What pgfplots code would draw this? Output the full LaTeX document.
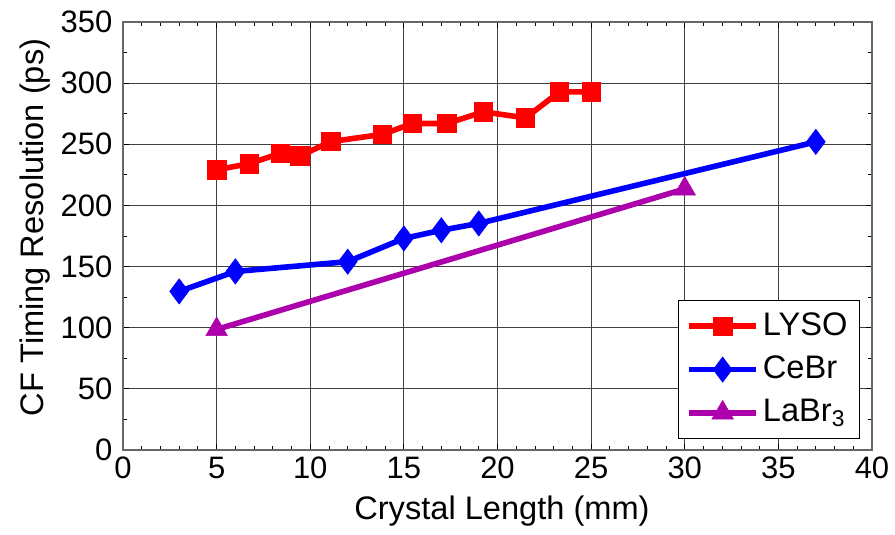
\documentclass[border=0pt]{standalone}
\usepackage{pgfplots}
\pgfplotsset{compat=1.18}
\usepackage{fontspec}
\setmainfont{Liberation Sans}
\definecolor{lyso}{rgb}{1,0,0}
\definecolor{cebr}{rgb}{0,0,1}
\definecolor{labr}{rgb}{0.68,0,0.68}
\newcommand{\chartfont}{\fontsize{15.5}{18}\selectfont}
\newcommand{\labelfont}{\fontsize{16.3}{19}\selectfont}
\begin{document}
\chartfont
\begin{tikzpicture}
\begin{axis}[
  scale only axis, width=374.5pt, height=214pt,
  xmin=0, xmax=40, ymin=0, ymax=350,
  xtick={0,5,...,40}, ytick={0,50,...,350},
  minor x tick num=4, minor y tick num=1,
  grid=major,
  major grid style={draw=black!75, line width=0.5pt},
  axis line style={draw=black!60, line width=0.6pt},
  tick style={black, line width=0.4pt},
  major tick length=3pt, minor tick length=2pt,
  tick align=inside,
  /pgf/number format/assume math mode=true,
  ticklabel style={font=\chartfont},
  xticklabel style={yshift=2pt},
  xlabel={Crystal Length (mm)},
  ylabel={CF Timing Resolution (ps)},
  every axis x label/.style={at={(axis description cs:0.506,-0.1425)}, anchor=center, font=\labelfont},
  every axis y label/.style={at={(axis description cs:-0.1175,0.52)}, anchor=center, rotate=90, font=\labelfont},
  legend style={at={(axis description cs:0.984,0.026)}, anchor=south east, draw=black, line width=0.5pt, font=\labelfont, row sep=4pt, inner xsep=4pt, inner ysep=4pt, cells={anchor=west}},
  legend image code/.code={\draw[mark repeat=2,mark phase=2] plot coordinates {(0pt,0pt) (16.75pt,0pt) (33.5pt,0pt)};},
]
\coordinate (O) at (rel axis cs:0,0);
\addplot[color=lyso, line width=2.8pt, mark=square*, mark size=4.6pt, mark options={solid, line width=0.3pt}] coordinates {
(5,229.2) (6.75,234.1) (8.4,242.7) (9.45,240.5) (11.1,252.2) (13.85,258.1) (15.45,267) (17.3,267) (19.25,276.5) (21.5,271.6) (23.3,292.8) (25,292.8)};
\addlegendentry{LYSO}
\addplot[color=cebr, line width=2.8pt, mark=diamond*, mark size=6.3pt, mark options={solid, line width=0.3pt}] coordinates {
(3,129.7) (6,146) (12,154) (15,173) (17,179.7) (19,185.3) (37,252)};
\addlegendentry{CeBr}
\addplot[color=labr, line width=2.8pt, mark=triangle*, mark size=6.2pt, mark options={solid, line width=0.3pt}] coordinates {
(5,98.6) (30,213.5)};
\addlegendentry{LaBr\textsubscript{3}}
\end{axis}
\pgfresetboundingbox
\path[use as bounding box] ([xshift=-61.5pt,yshift=-42.5pt]O) rectangle ++(447.5pt,267.5pt);
\end{tikzpicture}
\end{document}
